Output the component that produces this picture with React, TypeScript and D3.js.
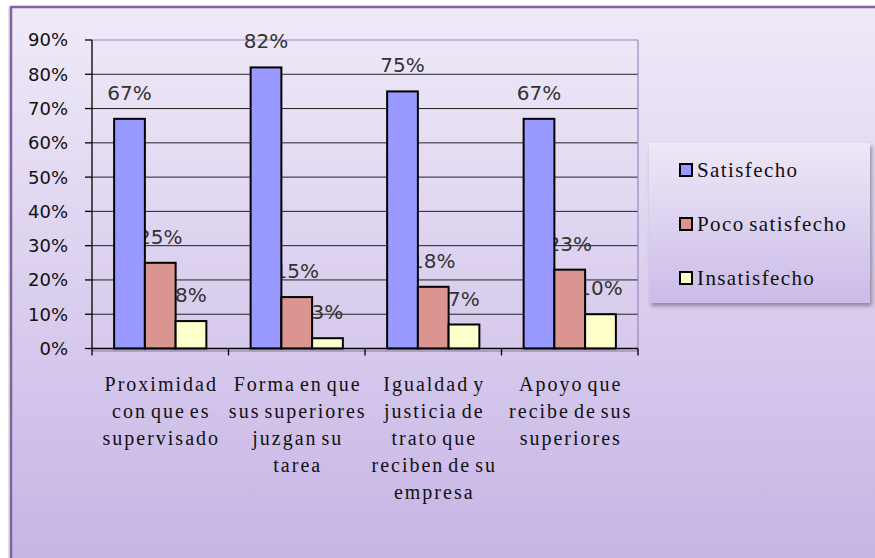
import React from "react";
import * as d3 from "d3";

const categoryLines: string[][] = [
  ["Proximidad", "con que es", "supervisado"],
  ["Forma en que", "sus superiores", "juzgan su", "tarea"],
  ["Igualdad y", "justicia de", "trato que", "reciben de su", "empresa"],
  ["Apoyo que", "recibe de sus", "superiores"],
];
const categories = categoryLines.map((l) => l.join(" "));
const seriesNames = ["Satisfecho", "Poco satisfecho", "Insatisfecho"];
const satisfecho = [67, 82, 75, 67];
const pocoSatisfecho = [25, 15, 18, 23];
const insatisfecho = [8, 3, 7, 10];
const seriesValues = [satisfecho, pocoSatisfecho, insatisfecho];
const seriesColors = ["#9999ff", "#db9591", "#ffffcc"];
const yTicks = [0, 10, 20, 30, 40, 50, 60, 70, 80, 90];

const W = 875;
const H = 558;
const plot = { left: 92, right: 638, top: 40, bottom: 348.5 };

export default function App() {
  const x0 = d3.scaleBand<string>().domain(categories).range([plot.left, plot.right]).paddingInner(0).paddingOuter(0);
  const x1 = d3
    .scaleBand<number>()
    .domain([0, 1, 2])
    .range([0, x0.bandwidth()])
    .paddingOuter(0.72)
    .paddingInner(0);
  const y = d3.scaleLinear().domain([0, 90]).range([plot.bottom, plot.top]);

  const sansFont = "'DejaVu Sans', sans-serif";
  const serifFont = "'Liberation Serif'";

  const labels: React.ReactNode[] = [];
  const bars: React.ReactNode[] = [];
  seriesValues.forEach((vals, si) => {
    vals.forEach((v, ci) => {
      const cx = x0(categories[ci])! + x1(si)!;
      const bw = x1.bandwidth();
      labels.push(
        <text
          key={`l${si}-${ci}`}
          x={cx + bw / 2}
          y={y(v) - 19}
          textAnchor="middle"
          style={{ fontFamily: sansFont, fontSize: 20 }}
          fill="#333"
        >
          {v}%
        </text>
      );
      bars.push(
        <rect
          key={`b${si}-${ci}`}
          x={cx}
          y={y(v)}
          width={bw}
          height={y(0) - y(v)}
          fill={seriesColors[si]}
          stroke="#000"
          strokeWidth={2}
        />
      );
    });
  });

  return (
    <svg width={W} height={H} style={{ position: "absolute", left: 0, top: 0 }}>
      <defs>
        <linearGradient id="bg" x1="0" y1="0" x2="0" y2="1">
          <stop offset="0" stopColor="#f0eaf8" />
          <stop offset="1" stopColor="#c6b4e5" />
        </linearGradient>
        <linearGradient id="lg" x1="0" y1="0" x2="0" y2="1">
          <stop offset="0" stopColor="#eee8f7" />
          <stop offset="1" stopColor="#cbbbe8" />
        </linearGradient>
        <filter id="shadow" x="-10%" y="-10%" width="130%" height="130%">
          <feGaussianBlur in="SourceAlpha" stdDeviation="2" />
          <feOffset dx="2" dy="3" result="o" />
          <feComponentTransfer>
            <feFuncA type="linear" slope="0.35" />
          </feComponentTransfer>
          <feMerge>
            <feMergeNode />
            <feMergeNode in="SourceGraphic" />
          </feMerge>
        </filter>
      </defs>
      <rect x={0} y={0} width={W} height={H} fill="#ffffff" />
      <rect x={8} y={7} width={3} height={H} fill="#e4e4e4" />
      <rect x={11} y={7} width={W} height={H} fill="url(#bg)" />
      <line x1={10} y1={7} x2={W} y2={7} stroke="#7f63a1" strokeWidth={2.5} />
      <line x1={11} y1={6} x2={11} y2={H} stroke="#7f63a1" strokeWidth={2.5} />

      {yTicks.slice(1, -1).map((t) => (
        <line key={`g${t}`} x1={plot.left} x2={plot.right} y1={y(t)} y2={y(t)} stroke="#222" strokeWidth={1} />
      ))}
      <line x1={plot.left} x2={plot.right} y1={plot.top} y2={plot.top} stroke="#9a86bf" strokeWidth={1.2} />
      <line x1={plot.right} x2={plot.right} y1={plot.top} y2={plot.bottom} stroke="#9a86bf" strokeWidth={1.2} />

      {labels}
      {bars}

      <line x1={plot.left} x2={plot.right} y1={plot.bottom + 2.5} y2={plot.bottom + 2.5} stroke="#9a8fb0" strokeWidth={2} opacity={0.7} />
      <line x1={plot.left} x2={plot.left} y1={plot.top} y2={plot.bottom} stroke="#000" strokeWidth={1.3} />
      <line x1={plot.left - 1} x2={plot.right} y1={plot.bottom} y2={plot.bottom} stroke="#000" strokeWidth={1.3} />
      {yTicks.map((t) => (
        <g key={`yt${t}`}>
          <line x1={plot.left - 7} x2={plot.left} y1={y(t)} y2={y(t)} stroke="#000" strokeWidth={1.3} />
          <text
            x={68}
            y={y(t)}
            dy="0.36em"
            textAnchor="end"
            style={{ fontFamily: sansFont, fontSize: 18 }}
            fill="#111"
          >
            {t}%
          </text>
        </g>
      ))}
      {[...categories.map((c) => x0(c)!), plot.right].map((xv, i) => (
        <line key={`xt${i}`} x1={xv} x2={xv} y1={plot.bottom} y2={plot.bottom + 7} stroke="#000" strokeWidth={1.3} />
      ))}
      {categoryLines.map((lines, ci) => (
        <text
          key={`c${ci}`}
          x={x0(categories[ci])! + x0.bandwidth() / 2 + 1}
          y={391}
          textAnchor="middle"
          style={{ fontFamily: serifFont, fontSize: 20, letterSpacing: 2, wordSpacing: -3 }}
          fill="#111"
        >
          {lines.map((ln, li) => (
            <tspan key={li} x={x0(categories[ci])! + x0.bandwidth() / 2 + 1} dy={li === 0 ? 0 : 27}>
              {ln}
            </tspan>
          ))}
        </text>
      ))}

      <g filter="url(#shadow)">
        <rect x={649} y={143} width={221} height={160} fill="url(#lg)" />
      </g>
      {seriesNames.map((n, i) => (
        <g key={`lg${i}`}>
          <rect x={680} y={164 + i * 54} width={12} height={12} fill={seriesColors[i]} stroke="#000" strokeWidth={2} />
          <text x={697} y={170 + i * 54} dy="0.35em" style={{ fontFamily: serifFont, fontSize: 21, letterSpacing: 1.4, wordSpacing: -2 }} fill="#111">
            {n}
          </text>
        </g>
      ))}
    </svg>
  );
}
